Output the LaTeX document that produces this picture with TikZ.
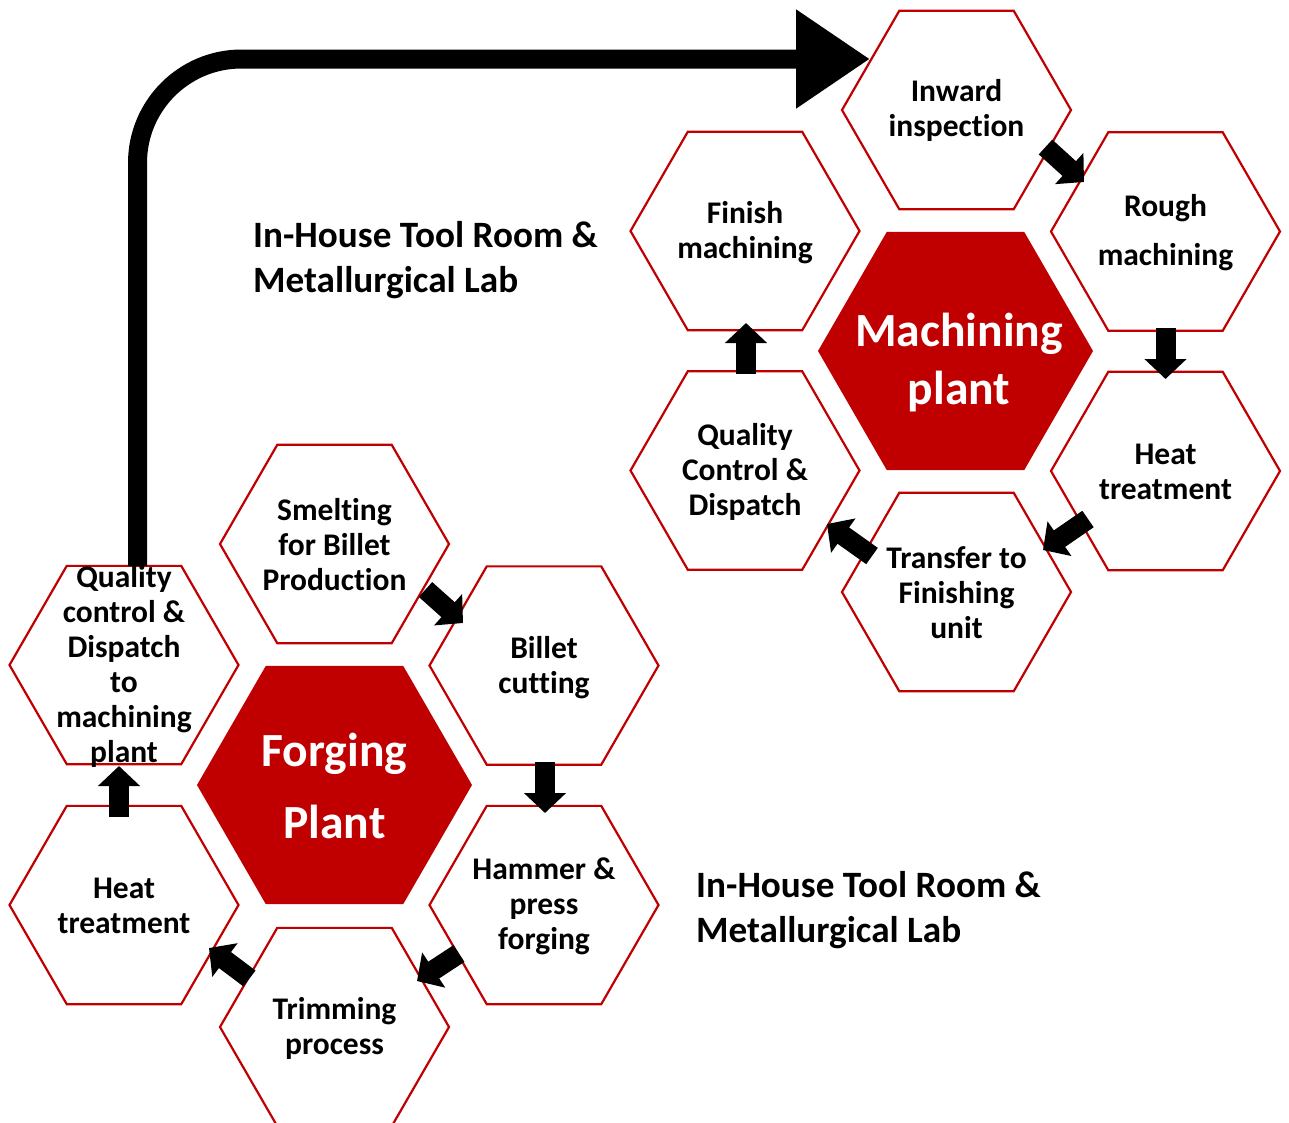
\documentclass[tikz,border=0pt]{standalone}
\usepackage{fontspec}
\setmainfont{Carlito}[Ligatures={NoCommon}]
\usetikzlibrary{arrows.meta}
\definecolor{hexred}{HTML}{C00000}
\newcommand{\hexshape}[4]{% style, x, y, radius
  \path[#1] (#2,#3) ++(0:#4) -- ++(120:#4) -- ++(180:#4) -- ++(240:#4) -- ++(300:#4) -- ++(0:#4) -- cycle;}
\tikzset{
  hexline/.style={draw=hexred, line width=2.2pt, fill=white},
  hexbig/.style={fill=hexred},
  hextext/.style={align=center, inner sep=0pt, font=\fontsize{31.5}{35}\selectfont\bfseries, text=black},
  bigtext/.style={align=center, inner sep=0pt, font=\fontsize{47.6}{58}\selectfont\bfseries, text=white},
  labeltext/.style={align=left, anchor=west, inner sep=0pt, font=\fontsize{37.2}{45}\selectfont\bfseries},
  blockarrow/.style={line width=20pt, -{Triangle[width=41pt,length=20pt]}},
  bigarrow/.style={line width=19pt, rounded corners=104pt, -{Triangle[width=94pt,length=74pt]}},
}
\begin{document}
\begin{tikzpicture}[x=1pt,y=-1pt]
\useasboundingbox (0,0) rectangle (1289,1122);
% ---------- machining plant group ----------
\hexshape{hexbig}{955.5}{351}{137.5}
\hexshape{hexline}{956.5}{110}{114.5}
\hexshape{hexline}{1165.5}{231.5}{114.5}
\hexshape{hexline}{1165.5}{471}{114.5}
\hexshape{hexline}{956.5}{592}{114.5}
\hexshape{hexline}{745}{470.5}{114.5}
\hexshape{hexline}{745}{231}{114.5}
% ---------- forging plant group ----------
\hexshape{hexbig}{334.5}{785}{137.5}
\hexshape{hexline}{334.5}{544}{114.5}
\hexshape{hexline}{544}{665.5}{114.5}
\hexshape{hexline}{544}{905}{114.5}
\hexshape{hexline}{334.5}{1027}{114.5}
\hexshape{hexline}{124}{905}{114.5}
\hexshape{hexline}{124}{665}{114.5}
% ---------- texts ----------
\node[bigtext] (mach) at (959,363) {Machining\\plant};
\node[hextext] (inward) at (956.5,110) {Inward\\inspection};
\node[hextext, font=\fontsize{31.5}{49}\selectfont\bfseries] (rough) at (1165.5,232.5) {Rough\\machining};
\node[hextext] (heatm) at (1165.5,472) {Heat\\treatment};
\node[hextext] (transfer) at (956.5,593) {Transfer to\\Finishing\\unit};
\node[hextext] (qcm) at (745,472) {Quality\\Control \&\\Dispatch};
\node[hextext] (finish) at (745,232.5) {Finish\\machining};
\node[bigtext, font=\fontsize{47.6}{72}\selectfont\bfseries] (forg) at (334.5,786) {Forging\\Plant};
\node[hextext] (smelt) at (334.5,544.5) {Smelting\\for Billet\\Production};
\node[hextext] (billet) at (544,667.5) {Billet\\cutting};
\node[hextext] (hammer) at (544,906) {Hammer \&\\press\\forging};
\node[hextext] (trim) at (334.5,1028) {Trimming\\process};
\node[hextext] (heatf) at (124,905.5) {Heat\\treatment};
\node[hextext] (qcf) at (124,666) {Quality\\control \&\\Dispatch\\to\\machining\\plant};
\node[labeltext] (lab1) at (253,260.5) {In-House Tool Room \&\\Metallurgical Lab};
\node[labeltext] (lab2) at (696,910.5) {In-House Tool Room \&\\Metallurgical Lab};
% ---------- arrow end points ----------
\coordinate (a1s) at (1045.5,147);  \coordinate (a1e) at (1084,182);
\coordinate (a2s) at (1165.5,328);  \coordinate (a2e) at (1165.5,379);
\coordinate (a3s) at (1088,519);    \coordinate (a3e) at (1043,550);
\coordinate (a4s) at (872,556);     \coordinate (a4e) at (827,524);
\coordinate (a5s) at (746,374);     \coordinate (a5e) at (746,323);
\coordinate (b1s) at (425.5,589.5); \coordinate (b1e) at (463,623);
\coordinate (b2s) at (545,762);     \coordinate (b2e) at (545,813);
\coordinate (b3s) at (459,953.5);   \coordinate (b3e) at (417,981);
\coordinate (b4s) at (249.5,978.5); \coordinate (b4e) at (209,948);
\coordinate (b5s) at (119,817);     \coordinate (b5e) at (119,766);
\coordinate (bigs) at (137.5,566);  \coordinate (bige) at (870,59);
% ---------- arrows ----------
\draw[blockarrow] (a1s) -- (a1e);
\draw[blockarrow] (a2s) -- (a2e);
\draw[blockarrow] (a3s) -- (a3e);
\draw[blockarrow] (a4s) -- (a4e);
\draw[blockarrow] (a5s) -- (a5e);
\draw[blockarrow] (b1s) -- (b1e);
\draw[blockarrow] (b2s) -- (b2e);
\draw[blockarrow] (b3s) -- (b3e);
\draw[blockarrow] (b4s) -- (b4e);
\draw[blockarrow] (b5s) -- (b5e);
\draw[bigarrow] (bigs) |- (bige);
\end{tikzpicture}
\end{document}
